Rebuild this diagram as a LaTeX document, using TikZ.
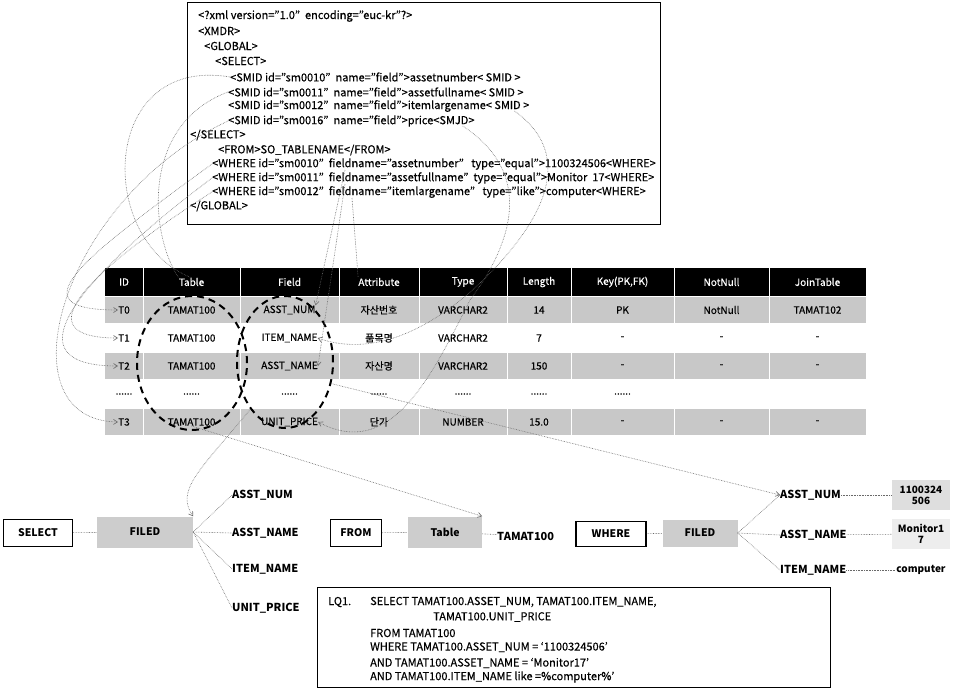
\documentclass[tikz,border=0pt]{standalone}
\usepackage{fontspec}
\setmainfont{Noto Sans CJK KR}[UprightFeatures={FakeBold=0.4}]
\usetikzlibrary{arrows.meta, positioning, calc, shapes.geometric}
\definecolor{rowgray}{RGB}{200,200,200}
\definecolor{cellgray}{RGB}{205,205,205}
\definecolor{valgray}{RGB}{222,222,222}
\definecolor{linkgray}{RGB}{105,105,105}

\tikzset{
  xmltxt/.style={anchor=west, inner sep=0pt, font=\fontsize{11}{13}\selectfont},
  headtxt/.style={text=white, inner sep=0pt, font=\fontsize{10}{12}\selectfont},
  celltxt/.style={inner sep=0pt, font=\fontsize{10}{12}\selectfont},
  ring/.style={draw, ellipse, line width=2pt, dash pattern=on 7pt off 5pt, inner sep=0pt},
  link/.style={densely dotted, linkgray, line width=0.6pt},
  linkarrow/.style={link, -{Straight Barb[length=4pt,width=5pt]}},
  keybox/.style={draw, line width=1.5pt, inner sep=0pt,
                 font=\bfseries\fontsize{10.5}{12}\selectfont},
  graybox/.style={fill=cellgray, inner sep=0pt,
                  font=\bfseries\fontsize{10.5}{12}\selectfont},
  fieldtxt/.style={anchor=west, inner sep=0pt,
                   font=\bfseries\fontsize{11}{12}\selectfont},
  valtxt/.style={inner sep=1pt, align=center,
                 font=\bfseries\fontsize{10}{11}\selectfont},
  sqltxt/.style={anchor=west, inner sep=0pt, font=\fontsize{11}{12}\selectfont},
}

\begin{document}
\begin{tikzpicture}[x=1pt, y=-1pt]
  \useasboundingbox (0,0) rectangle (953,689);
  \fill[white] (0,0) rectangle (953,689);

  % XML document
  \draw[line width=1pt] (187,2) rectangle (660,224);
  \node[xmltxt] (x1) at (198,16) {<?xml version="1.0"~~encoding="euc-kr"?>};
  \node[xmltxt] (x2) at (198,31) {<XMDR>};
  \node[xmltxt] (x3) at (204,46) {<GLOBAL>};
  \node[xmltxt] (x4) at (215,61) {<SELECT>};
  \node[xmltxt] (x5) at (230,77) {<SMID id="sm0010"~ name="field">assetnumber< SMID >};
  \node[xmltxt] (x6) at (228,92) {<SMID id="sm0011"~ name="field">assetfullname< SMID >};
  \node[xmltxt] (x7) at (228,106) {<SMID id="sm0012"~ name="field">itemlargename< SMID >};
  \node[xmltxt] (x8) at (228,121) {<SMID id="sm0016"~ name="field">price<SMJD>};
  \node[xmltxt] (x9) at (190,135) {</SELECT>};
  \node[xmltxt] (x10) at (218,150) {<FROM>SO\_TABLENAME</FROM>};
  \node[xmltxt] (x11) at (212,164) {<WHERE id="sm0010"~ fieldname="assetnumber"~~ type="equal">1100324506<WHERE>};
  \node[xmltxt] (x12) at (212,178) {<WHERE id="sm0011"~ fieldname="assetfullname"~ type="equal">Monitor~ 17<WHERE>};
  \node[xmltxt] (x13) at (212,192) {<WHERE id="sm0012"~ fieldname="itemlargename"~~ type="like">computer<WHERE>};
  \node[xmltxt] (x14) at (190,206) {</GLOBAL>};

  % Metadata table
  \fill (105,268) rectangle (866,296);
  \foreach \y in {297,353,409}
    \fill[rowgray] (105,\y) rectangle (866,\y+26);
  \foreach \x in {143,240,339,419,507,571,674,769}
    \draw[white, line width=1pt] (\x,268) -- (\x,435);

  \foreach \x/\txt [count=\c] in {124/ID, 191.5/Table, 289.5/Field, 379/Attribute,
      463/Type, 539/Length, {622.5/Key(PK,FK)}, 721.5/NotNull, 817.5/JoinTable}
    \node[headtxt] (r0c\c) at (\x,282) {\txt};
  \foreach \x/\txt [count=\c] in {124/T0, 191.5/TAMAT100, 289.5/ASST\_NUM, 379/자산번호,
      463/VARCHAR2, 539/14, 622.5/PK, 721.5/NotNull, 817.5/TAMAT102}
    \node[celltxt] (r1c\c) at (\x,310) {\txt};
  \foreach \x/\txt [count=\c] in {124/T1, 191.5/TAMAT100, 289.5/ITEM\_NAME, 379/품목명,
      463/VARCHAR2, 539/7, 622.5/-, 721.5/-, 817.5/-}
    \node[celltxt] (r2c\c) at (\x,338) {\txt};
  \foreach \x/\txt [count=\c] in {124/T2, 191.5/TAMAT100, 289.5/ASST\_NAME, 379/자산명,
      463/VARCHAR2, 539/150, 622.5/-, 721.5/-, 817.5/-}
    \node[celltxt] (r3c\c) at (\x,366) {\txt};
  \foreach \x [count=\c] in {124, 191.5, 289.5, 379, 463, 539, 622.5}
    \node[celltxt] (r4c\c) at (\x,394) {......};
  \foreach \x/\txt [count=\c] in {124/T3, 191.5/TAMAT100, 289.5/UNIT\_PRICE, 379/단가,
      463/NUMBER, 539/15.0, 622.5/-, 721.5/-, 817.5/-}
    \node[celltxt] (r5c\c) at (\x,422) {\txt};

  % Selected columns
  \node[ring, minimum width=110pt, minimum height=134pt] (tabring) at (192,363) {};
  \node[ring, minimum width=96pt, minimum height=132pt] (fldring) at (285,362) {};

  % SELECT part
  \node[keybox, minimum width=69pt, minimum height=27pt] (sel) at (38,533) {SELECT};
  \node[graybox, minimum width=96pt, minimum height=31pt] (fld1) at (145,532) {FILED};
  \node[fieldtxt] (la1) at (232,495) {ASST\_NUM};
  \node[fieldtxt] (la2) at (232,533) {ASST\_NAME};
  \node[fieldtxt] (la3) at (232,569) {ITEM\_NAME};
  \node[fieldtxt] (la4) at (232,608) {UNIT\_PRICE};

  % FROM part
  \node[keybox, minimum width=51pt, minimum height=27pt] (from) at (356,533) {FROM};
  \node[graybox, minimum width=74pt, minimum height=31pt] (tbl) at (445,532) {Table};
  \node[fieldtxt] (tam) at (497,536) {TAMAT100};

  % WHERE part
  \node[keybox, minimum width=70pt, minimum height=25pt] (where) at (611,534) {WHERE};
  \node[graybox, minimum width=75pt, minimum height=27pt] (fld2) at (700,533) {FILED};
  \node[fieldtxt] (lb1) at (780,495) {ASST\_NUM};
  \node[fieldtxt] (lb2) at (780,535) {ASST\_NAME};
  \node[fieldtxt] (lb3) at (780,570) {ITEM\_NAME};
  \node[valtxt, fill=valgray, minimum width=58pt, minimum height=30pt] (v1) at (921,495) {1100324\\506};
  \node[valtxt, fill=valgray!55, minimum width=58pt, minimum height=30pt] (v2) at (921,534) {Monitor1\\7};
  \node[valtxt] (v3) at (921,570) {computer};

  % Generated query
  \draw[line width=1pt] (317,587) rectangle (830,687);
  \node[sqltxt] (q0) at (328,602) {LQ1.};
  \node[sqltxt] (q1) at (370,602) {SELECT TAMAT100.ASSET\_NUM, TAMAT100.ITEM\_NAME,};
  \node[sqltxt] (q2) at (433,617) {TAMAT100.UNIT\_PRICE};
  \node[sqltxt] (q3) at (370,633) {FROM TAMAT100};
  \node[sqltxt] (q4) at (370,647) {WHERE TAMAT100.ASSET\_NUM = ‘1100324506’};
  \node[sqltxt] (q5) at (370,663) {AND TAMAT100.ASSET\_NAME = ‘Monitor17’};
  \node[sqltxt] (q6) at (370,677) {AND TAMAT100.ITEM\_NAME like =\%computer\%’};

  % XML -> table
  \draw[link] (x5.west) .. controls (100,55) and (95,240) .. (r0c2.north);
  \draw[link] (x6.west) .. controls (140,125) and (150,235) .. (r0c2.north west);
  \draw[linkarrow] (x8.west) .. controls (60,200) and (0,420) .. (r5c1.west);
  \draw[linkarrow] (x11.west) .. controls (80,260) and (15,310) .. (r1c1.west);
  \draw[linkarrow] (x13.west) .. controls (90,270) and (20,338) .. (r2c1.west);
  \draw[linkarrow] (x12.west) .. controls (70,285) and (10,366) .. (r3c1.west);
  \draw[linkarrow] ($(x11.west)+(133,6)$) -- (r1c3.north east);
  \draw[linkarrow] ($(x12.west)+(133,6)$) -- (r3c3.east);
  \draw[link] ($(x13.west)+(140,6)$) -- (r0c4.north west);
  \draw[linkarrow] ($(x7.east)+(-15,5)$) .. controls (590,165) and (520,245) .. (478,285)
    .. controls (440,320) and (380,360) .. (r2c3.east);
  \draw[linkarrow] ($(x8.east)+(-12,5)$) .. controls (545,180) and (500,260) .. (470,300)
    .. controls (430,380) and (390,460) .. (r5c3.east);

  % table -> query tree
  \draw[linkarrow] (fldring.south west) .. controls (200,470) and (175,490) .. (fld1.north east);
  \draw[linkarrow] (r5c2.south) -- (tbl.north east);
  \draw[linkarrow] (fldring.-25) -- (lb1.west);

  % query tree
  \draw[link] (sel) -- (fld1);
  \foreach \n in {la1,la2,la3,la4}
    \draw[link] (fld1.east) -- (\n.west);
  \draw[link] (from) -- (tbl);
  \draw[link] (tbl) -- (tam);
  \draw[link] (where) -- (fld2);
  \foreach \n in {lb1,lb2,lb3}
    \draw[link] (fld2.east) -- (\n.west);
  \draw[link] (lb1) -- (v1);
  \draw[link] (lb2) -- (v2);
  \draw[link] (lb3) -- (v3);
\end{tikzpicture}
\end{document}
